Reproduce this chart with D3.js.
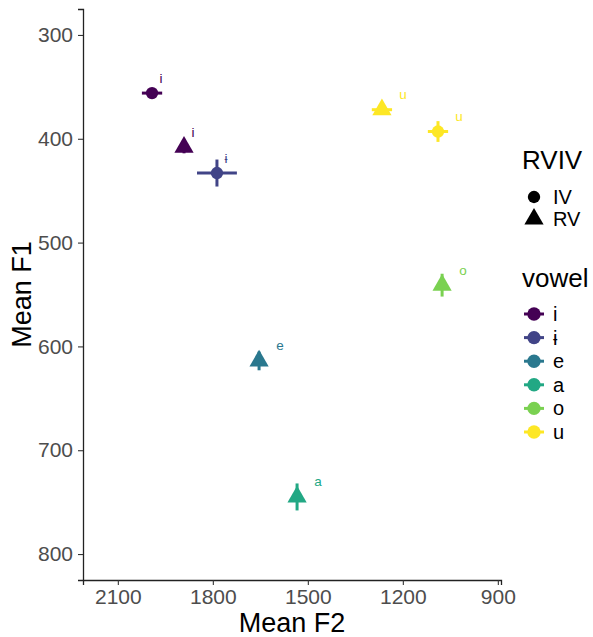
<!DOCTYPE html>
<html>
<head>
<meta charset="utf-8">
<script src="https://cdn.jsdelivr.net/npm/d3@7"></script>
<style>
  body { margin: 0; background: #fff; }
  svg { display: block; }
  text { font-family: "Liberation Sans", Arial, "DejaVu Sans", sans-serif; }
</style>
</head>
<body>
<svg id="chart" width="593" height="637"></svg>
<script>
// ---- data ----
const vowels = ["i", "ɨ", "e", "a", "o", "u"];
const vowelColors = ["#440154", "#414487", "#2A788E", "#22A884", "#7AD151", "#FDE725"];
const rvivLevels = ["IV", "RV"];

const pointVowel = ["i", "i", "ɨ", "e", "a", "o", "u", "u"];
const pointRVIV  = ["IV", "RV", "IV", "RV", "RV", "RV", "RV", "IV"];
const meanF2     = [1992, 1891, 1787, 1654, 1534, 1076, 1266, 1089];
const meanF1     = [356, 408, 433, 614, 745, 541, 372, 393];
const seF2       = [32, 12, 63, 6, 6, 6, 32, 32];
const seF1       = [3, 6, 13, 9, 13, 11, 4, 10];

const xTicks = [2100, 1800, 1500, 1200, 900];
const yTicks = [300, 400, 500, 600, 700, 800];

// ---- layout ----
const svg = d3.select("#chart");
const pLeft = 83, pRight = 501, pTop = 9, pBottom = 580;

const x = d3.scaleLinear().domain([2210, 890]).range([pLeft, pRight]);
const y = d3.scaleLinear().domain([275, 825]).range([pTop, pBottom]);
const color = d3.scaleOrdinal().domain(vowels).range(vowelColors);
const shape = d3.scaleOrdinal().domain(rvivLevels).range([d3.symbolCircle, d3.symbolTriangle]);
const shapeSize = { IV: 120, RV: 160 };

const tickColor = "#4D4D4D";

// axes
const xAxis = svg.append("g").attr("transform", `translate(0,${pBottom})`)
  .call(d3.axisBottom(x).tickValues(xTicks).tickSize(5).tickPadding(4).tickFormat(d3.format("d")));
const yAxis = svg.append("g").attr("transform", `translate(${pLeft},0)`)
  .call(d3.axisLeft(y).tickValues(yTicks).tickSize(5).tickPadding(5).tickFormat(d3.format("d")));

[xAxis, yAxis].forEach(g => {
  g.select(".domain").attr("stroke", "#222").attr("stroke-width", 1.3);
  g.selectAll(".tick line").attr("stroke", "#333").attr("stroke-width", 1.1);
  g.selectAll(".tick text").attr("fill", tickColor).style("font-size", "21px");
});

// axis titles
svg.append("text").attr("x", (pLeft + pRight) / 2).attr("y", 623)
  .attr("text-anchor", "middle").attr("dominant-baseline", "central")
  .style("font-size", "27px").attr("fill", "#000").text("Mean F2");
svg.append("text").attr("transform", `translate(22,${(pTop + pBottom) / 2}) rotate(-90)`)
  .attr("text-anchor", "middle").attr("dominant-baseline", "central")
  .style("font-size", "27px").attr("fill", "#000").text("Mean F1");

// points
const pts = meanF2.map((f2, i) => ({
  vowel: pointVowel[i], rviv: pointRVIV[i], f2, f1: meanF1[i], e2: seF2[i], e1: seF1[i]
}));

const g = svg.append("g");
const pg = g.selectAll("g.pt").data(pts).join("g").attr("class", "pt");

pg.append("line")
  .attr("x1", d => x(d.f2 + d.e2)).attr("x2", d => x(d.f2 - d.e2))
  .attr("y1", d => y(d.f1)).attr("y2", d => y(d.f1))
  .attr("stroke", d => color(d.vowel)).attr("stroke-width", 3);
pg.append("line")
  .attr("x1", d => x(d.f2)).attr("x2", d => x(d.f2))
  .attr("y1", d => y(d.f1 - d.e1)).attr("y2", d => y(d.f1 + d.e1))
  .attr("stroke", d => color(d.vowel)).attr("stroke-width", 3);
pg.append("path")
  .attr("transform", d => `translate(${x(d.f2)},${y(d.f1)})`)
  .attr("d", d => d3.symbol().type(shape(d.rviv)).size(shapeSize[d.rviv])())
  .attr("fill", d => color(d.vowel));

// labels
const labelDx = v => (v === "i" || v === "ɨ") ? 9 : 21;
pg.append("text")
  .attr("x", d => x(d.f2) + labelDx(d.vowel))
  .attr("y", d => y(d.f1) - 15)
  .attr("text-anchor", "middle").attr("dominant-baseline", "central")
  .style("font-size", "13.5px")
  .attr("fill", d => color(d.vowel))
  .text(d => d.vowel);

// legends
const lx = 522, keyX = 534, textX = 553;
svg.append("text").attr("x", lx).attr("y", 160).attr("dominant-baseline", "central")
  .style("font-size", "26px").attr("fill", "#000").text("RVIV");
const rvLeg = svg.append("g").selectAll("g").data(rvivLevels).join("g")
  .attr("transform", (d, i) => `translate(0,${197 + i * 22})`);
rvLeg.append("path").attr("transform", `translate(${keyX},0)`)
  .attr("d", d => d3.symbol().type(shape(d)).size(shapeSize[d])()).attr("fill", "#000");
rvLeg.append("text").attr("x", textX).attr("dominant-baseline", "central")
  .style("font-size", "20px").attr("fill", "#000").text(d => d);

svg.append("text").attr("x", lx).attr("y", 278).attr("dominant-baseline", "central")
  .style("font-size", "26px").attr("fill", "#000").text("vowel");
const vLeg = svg.append("g").selectAll("g").data(vowels).join("g")
  .attr("transform", (d, i) => `translate(0,${314 + i * 23.6})`);
vLeg.append("line").attr("x1", keyX - 10).attr("x2", keyX + 10)
  .attr("stroke", d => color(d)).attr("stroke-width", 3);
vLeg.append("path").attr("transform", `translate(${keyX},0)`)
  .attr("d", d3.symbol().type(d3.symbolCircle).size(140)()).attr("fill", d => color(d));
vLeg.append("text").attr("x", textX).attr("dominant-baseline", "central")
  .style("font-size", "20px").attr("fill", "#000").text(d => d);
</script>
</body>
</html>
